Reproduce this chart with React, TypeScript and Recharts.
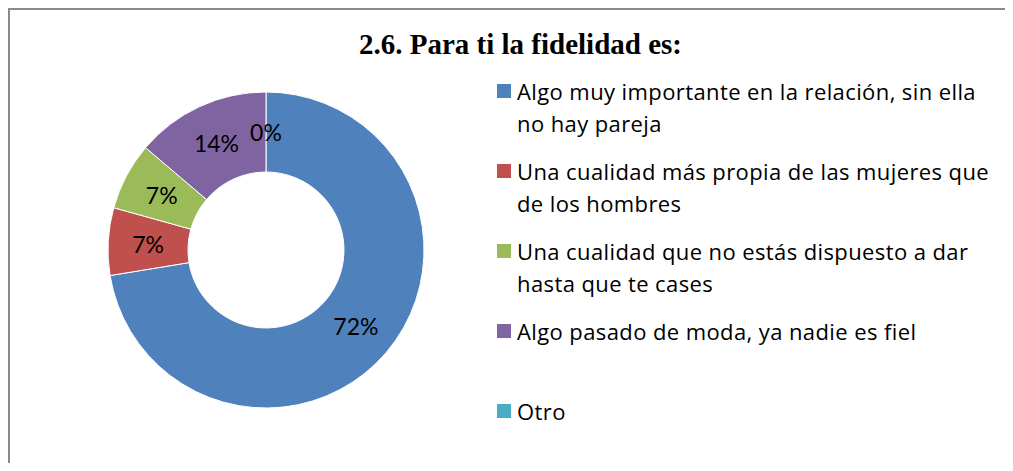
import { PieChart, Pie, Cell, Legend } from "recharts";

const categories = [
  "Algo muy importante en la relación, sin ella no hay pareja",
  "Una cualidad más propia de las mujeres que de los hombres",
  "Una cualidad que no estás dispuesto a dar hasta que te cases",
  "Algo pasado de moda, ya nadie es fiel",
  "Otro",
];
const counts = [21, 2, 2, 4, 0];
const colors = ["#4F81BD", "#C0504D", "#9BBB59", "#8064A2", "#4BACC6"];
const title = "2.6. Para ti la fidelidad es:";

const data = categories.map((name, i) => ({ name, value: counts[i] }));
const total = counts.reduce((a, b) => a + b, 0);

const FONT = "'Open Sans', Lato, sans-serif";
const LABEL_FONT = "Lato, 'Open Sans', sans-serif";
const RAD = Math.PI / 180;

function renderLabel(props: any) {
  const { cx, cy, midAngle, innerRadius, outerRadius, value } = props;
  const r = (innerRadius + outerRadius) / 2;
  const x = cx + r * Math.cos(-midAngle * RAD);
  const y = cy + r * Math.sin(-midAngle * RAD);
  return (
    <text
      x={x}
      y={y}
      textAnchor="middle"
      dominantBaseline="central"
      fill="#000"
      fontSize={23}
      fontFamily={LABEL_FONT}
    >
      {`${Math.round((value / total) * 100)}%`}
    </text>
  );
}

function LegendBox() {
  return (
    <div style={{ fontFamily: FONT, fontSize: 22, letterSpacing: 0.4, color: "#000" }}>
      {categories.map((c, i) => (
        <div key={c} style={{ position: "relative", height: 80, paddingLeft: 23, width: 482, lineHeight: "32px" }}>
          <span
            style={{
              position: "absolute",
              left: 3,
              top: 9,
              width: 14,
              height: 14,
              background: colors[i],
            }}
          />
          {c}
        </div>
      ))}
    </div>
  );
}

export default function App() {
  return (
    <div style={{ position: "relative", margin: -8, width: 1013, height: 471, overflow: "hidden", background: "#fff" }}>
      <div
        style={{
          position: "absolute",
          left: 0,
          width: 1013,
          top: 27,
          textAlign: "center",
          paddingLeft: 28,
          boxSizing: "border-box",
          fontFamily: "'Liberation Serif', 'Times New Roman', serif",
          fontWeight: "bold",
          fontSize: 29,
          lineHeight: "34px",
        }}
      >
        {title}
      </div>
      <div style={{ position: "absolute", left: 0, top: 0 }}>
        <PieChart width={1013} height={471} margin={{ top: 0, right: 0, bottom: 0, left: 0 }}>
          <line x1={8} y1={9} x2={1013} y2={9} stroke="#8a8a8a" strokeWidth={2} />
          <line x1={9} y1={8} x2={9} y2={471} stroke="#8a8a8a" strokeWidth={2} />
          <Pie
            data={data}
            dataKey="value"
            nameKey="name"
            cx={266}
            cy={250}
            innerRadius={78}
            outerRadius={158}
            startAngle={90}
            endAngle={-270}
            stroke="#fff"
            strokeWidth={1}
            label={renderLabel}
            labelLine={false}
            isAnimationActive={false}
          >
            {data.map((d, i) => (
              <Cell key={d.name} fill={colors[i]} />
            ))}
          </Pie>
          <Legend
            layout="vertical"
            content={() => <LegendBox />}
            wrapperStyle={{ position: "absolute", left: 494, top: 75, width: 520 }}
          />
        </PieChart>
      </div>
    </div>
  );
}
